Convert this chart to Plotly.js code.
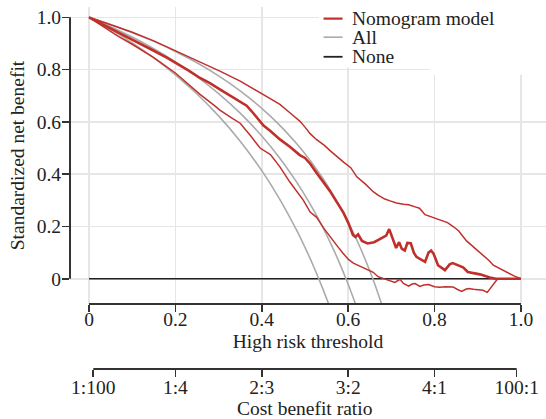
<!DOCTYPE html>
<html>
<head>
<meta charset="utf-8">
<script src="https://cdn.plot.ly/plotly-3.0.1.min.js"></script>
<style>html,body{margin:0;padding:0;background:#fff;}#chart{width:546px;height:419px;}</style>
</head>
<body>
<div id="chart"></div>
<script>
// ---- data ----
const seriesNames = ['Nomogram model', 'All', 'None'];

const xTickVals = [0, 0.2, 0.4, 0.6, 0.8, 1.0];
const xTickText = ['0', '0.2', '0.4', '0.6', '0.8', '1.0'];
const yTickVals = [0, 0.2, 0.4, 0.6, 0.8, 1.0];
const yTickText = ['0', '0.2', '0.4', '0.6', '0.8', '1.0'];
const costTickVals = [0.0099, 0.2, 0.4, 0.6, 0.8, 0.9901];
const costTickText = ['1:100', '1:4', '2:3', '3:2', '4:1', '100:1'];

// Nomogram model (thick red)
const modelT = [0, 0.03, 0.06, 0.09, 0.12, 0.15, 0.18, 0.2, 0.23, 0.257, 0.28, 0.303, 0.33, 0.35, 0.365, 0.38, 0.404, 0.42, 0.442, 0.465, 0.488, 0.5, 0.512, 0.527, 0.543, 0.558, 0.573, 0.589, 0.6, 0.611, 0.617, 0.623, 0.632, 0.645, 0.66, 0.675, 0.688, 0.695, 0.703, 0.711, 0.718, 0.724, 0.731, 0.737, 0.745, 0.752, 0.758, 0.768, 0.778, 0.786, 0.792, 0.798, 0.808, 0.824, 0.835, 0.842, 0.855, 0.866, 0.877, 0.89, 0.905, 0.928, 0.942, 1.0];
const modelY = [1.0, 0.975, 0.949, 0.923, 0.898, 0.872, 0.846, 0.827, 0.797, 0.768, 0.748, 0.724, 0.697, 0.678, 0.662, 0.634, 0.586, 0.565, 0.533, 0.505, 0.473, 0.462, 0.44, 0.405, 0.37, 0.335, 0.295, 0.253, 0.215, 0.168, 0.16, 0.17, 0.145, 0.135, 0.14, 0.152, 0.165, 0.19, 0.15, 0.118, 0.14, 0.115, 0.108, 0.137, 0.136, 0.1, 0.084, 0.075, 0.065, 0.1, 0.108, 0.095, 0.052, 0.033, 0.055, 0.06, 0.052, 0.044, 0.026, 0.022, 0.017, 0.005, 0.0, 0.0];

// Upper confidence limit (thin red)
const upperT = [0, 0.03, 0.06, 0.1, 0.15, 0.2, 0.257, 0.303, 0.35, 0.38, 0.404, 0.442, 0.465, 0.488, 0.5, 0.512, 0.527, 0.545, 0.558, 0.575, 0.59, 0.606, 0.62, 0.64, 0.658, 0.669, 0.685, 0.697, 0.712, 0.728, 0.74, 0.755, 0.765, 0.778, 0.795, 0.8125, 0.83, 0.844, 0.856, 0.874, 0.886, 0.905, 0.926, 0.936, 0.95, 0.968, 0.985, 1.0];
const upperY = [1.0, 0.983, 0.965, 0.943, 0.91, 0.873, 0.831, 0.794, 0.756, 0.727, 0.707, 0.667, 0.635, 0.603, 0.58, 0.555, 0.532, 0.51, 0.49, 0.465, 0.445, 0.425, 0.39, 0.362, 0.333, 0.32, 0.305, 0.298, 0.29, 0.285, 0.283, 0.275, 0.27, 0.245, 0.235, 0.226, 0.215, 0.199, 0.183, 0.145, 0.128, 0.1, 0.07, 0.052, 0.04, 0.022, 0.01, 0.0];

// Lower confidence limit (thin red)
const lowerT = [0, 0.03, 0.067, 0.1, 0.15, 0.2, 0.257, 0.292, 0.303, 0.33, 0.35, 0.375, 0.396, 0.42, 0.442, 0.465, 0.473, 0.496, 0.512, 0.527, 0.545, 0.558, 0.575, 0.588, 0.6, 0.612, 0.63, 0.645, 0.658, 0.669, 0.68, 0.692, 0.7, 0.708, 0.72, 0.728, 0.74, 0.748, 0.755, 0.766, 0.775, 0.786, 0.8, 0.812, 0.825, 0.843, 0.852, 0.863, 0.872, 0.879, 0.89, 0.903, 0.912, 0.922, 0.934, 0.946, 1.0];
const lowerY = [1.0, 0.968, 0.928, 0.897, 0.846, 0.787, 0.705, 0.66, 0.645, 0.615, 0.595, 0.545, 0.5, 0.475, 0.428, 0.37, 0.352, 0.301, 0.255, 0.235, 0.19, 0.16, 0.125, 0.098, 0.075, 0.06, 0.047, 0.035, 0.025, 0.008, 0.002, -0.004, -0.008, -0.014, -0.002, -0.018, -0.028, -0.02, -0.018, -0.029, -0.024, -0.022, -0.03, -0.032, -0.03, -0.031, -0.04, -0.048, -0.04, -0.037, -0.04, -0.042, -0.044, -0.052, -0.025, 0.0, 0.0];

// Treat all (grey, three curves)
const allT = [0, 0.05, 0.1, 0.15, 0.2, 0.25, 0.3, 0.35, 0.4, 0.44, 0.48, 0.5, 0.52, 0.54, 0.56, 0.58, 0.6, 0.62, 0.64, 0.66, 0.68];
const allHigh = [1.0, 0.9725, 0.942, 0.9079, 0.8695, 0.826, 0.7762, 0.7189, 0.6519, 0.5898, 0.518, 0.4779, 0.4344, 0.3871, 0.3355, 0.279, 0.2169, 0.1482, 0.0718, -0.0135, -0.1095];
const allMid = [1.0, 0.9642, 0.9244, 0.8799, 0.8298, 0.7731, 0.7083, 0.6335, 0.5462, 0.4652, 0.3717, 0.3193, 0.2626, 0.2009, 0.1337, 0.06, -0.021, -0.1106, -0.21, -0.32, -0.45];
const allLow = [1.0, 0.9537, 0.9023, 0.8448, 0.7801, 0.7068, 0.623, 0.5263, 0.4135, 0.3088, 0.188, 0.1203, 0.047, -0.0327, -0.1196, -0.215, -0.32, -0.435, -0.564, -0.708, -0.869];

// Treat none
const noneT = [0, 1];
const noneY = [0, 0];

// ---- styling ----
const RED = '#c0302b';
const GREY = '#ababab';
const BLACK = '#222222';
const FONT = 'Liberation Serif, Times New Roman, serif';

const traces = [
  {x: noneT, y: noneY, mode: 'lines', line: {color: BLACK, width: 1.6}, name: seriesNames[2], showlegend: false, hoverinfo: 'skip'},
  {x: allT, y: allHigh, mode: 'lines', line: {color: GREY, width: 1.6, shape: 'spline'}, name: seriesNames[1], showlegend: false},
  {x: allT, y: allMid, mode: 'lines', line: {color: GREY, width: 1.6, shape: 'spline'}, name: seriesNames[1], showlegend: false},
  {x: allT, y: allLow, mode: 'lines', line: {color: GREY, width: 1.6, shape: 'spline'}, name: seriesNames[1], showlegend: false},
  {x: upperT, y: upperY, mode: 'lines', line: {color: RED, width: 1.5}, name: seriesNames[0], showlegend: false},
  {x: lowerT, y: lowerY, mode: 'lines', line: {color: RED, width: 1.5}, name: seriesNames[0], showlegend: false},
  {x: modelT, y: modelY, mode: 'lines', line: {color: RED, width: 2.6}, name: seriesNames[0], showlegend: false},
  {x: [], y: [], xaxis: 'x2', mode: 'lines', showlegend: false, hoverinfo: 'skip'}
];

// pixel geometry
const W = 546, H = 419;
const mL = 70, mR = 0, mT = 7, mB = 50;
const plotBottomPx = 304;
const paperH = H - mT - mB;
const yDom0 = (H - mB - plotBottomPx) / paperH;

const xRange = [-0.044, 1.058];
const yRange = [-0.0964, 1.0394];

const legendItems = [
  {label: seriesNames[0], color: RED, width: 2.2, y: 0.995},
  {label: seriesNames[1], color: GREY, width: 1.6, y: 0.924},
  {label: seriesNames[2], color: BLACK, width: 1.8, y: 0.849}
];

const shapes = [
  // legend background
  {type: 'rect', xref: 'x', yref: 'y', x0: 0.532, x1: 1.1, y0: 0.808, y1: 1.1, fillcolor: '#ffffff', line: {width: 0}, layer: 'between'},
  {type: 'rect', xref: 'x', yref: 'y', x0: 0.789, x1: 1.1, y0: 0.78, y1: 0.81, fillcolor: '#ffffff', line: {width: 0}, layer: 'between'},
  // axis lines (range-limited, as in reference)
  {type: 'line', xref: 'paper', yref: 'y', x0: 0, x1: 0, y0: 0, y1: 1, line: {color: '#333', width: 2}},
  {type: 'line', xref: 'x', yref: 'paper', x0: 0, x1: 1, y0: yDom0, y1: yDom0, line: {color: '#333', width: 2}},
  {type: 'line', xref: 'x', yref: 'paper', x0: costTickVals[0], x1: costTickVals[costTickVals.length - 1], y0: 0, y1: 0, line: {color: '#333', width: 2}}
];
const annotations = [];
legendItems.forEach(it => {
  shapes.push({type: 'line', xref: 'x', yref: 'y', x0: 0.543, x1: 0.587, y0: it.y, y1: it.y, line: {color: it.color, width: it.width}});
  annotations.push({xref: 'x', yref: 'y', x: 0.604, y: it.y, text: it.label, showarrow: false, xanchor: 'left', yanchor: 'middle', font: {family: FONT, size: 19.5, color: '#222'}});
});
// title of the cost-benefit axis
annotations.push({xref: 'x', yref: 'paper', x: 0.5, y: (H - mB - 408) / paperH, text: 'Cost benefit ratio', showarrow: false, xanchor: 'center', yanchor: 'middle', font: {family: FONT, size: 19.5, color: '#222'}});

const axisCommon = {
  ticks: 'outside', ticklen: 7, tickwidth: 1.6, tickcolor: '#333',
  showline: false, zeroline: false,
  tickfont: {family: FONT, size: 19.5, color: '#222'}
};

const layout = {
  width: W, height: H,
  margin: {l: mL, r: mR, t: mT, b: mB, pad: 0},
  paper_bgcolor: '#ffffff', plot_bgcolor: '#ffffff',
  font: {family: FONT, size: 19.5, color: '#222'},
  showlegend: false,
  xaxis: Object.assign({}, axisCommon, {
    range: xRange, tickmode: 'array', tickvals: xTickVals, ticktext: xTickText,
    showgrid: true, gridcolor: '#e6e6e6', gridwidth: 1.6,
    anchor: 'y', ticklabelstandoff: -9,
    title: {text: 'High risk threshold', font: {family: FONT, size: 19.5, color: '#222'}, standoff: 4}
  }),
  xaxis2: Object.assign({}, axisCommon, {
    range: xRange, tickmode: 'array', tickvals: costTickVals, ticktext: costTickText,
    showgrid: false, overlaying: 'x', anchor: 'free', position: 0, side: 'bottom',
    ticklabelstandoff: -6
  }),
  yaxis: Object.assign({}, axisCommon, {
    range: yRange, domain: [yDom0, 1], tickmode: 'array', tickvals: yTickVals, ticktext: yTickText,
    showgrid: true, gridcolor: '#e6e6e6', gridwidth: 1.6, ticklabelstandoff: -3,
    title: {text: 'Standardized net benefit', font: {family: FONT, size: 19.5, color: '#222'}, standoff: 6}
  }),
  shapes: shapes,
  annotations: annotations
};

Plotly.newPlot('chart', traces, layout, {displayModeBar: false, staticPlot: true});
</script>
</body>
</html>
